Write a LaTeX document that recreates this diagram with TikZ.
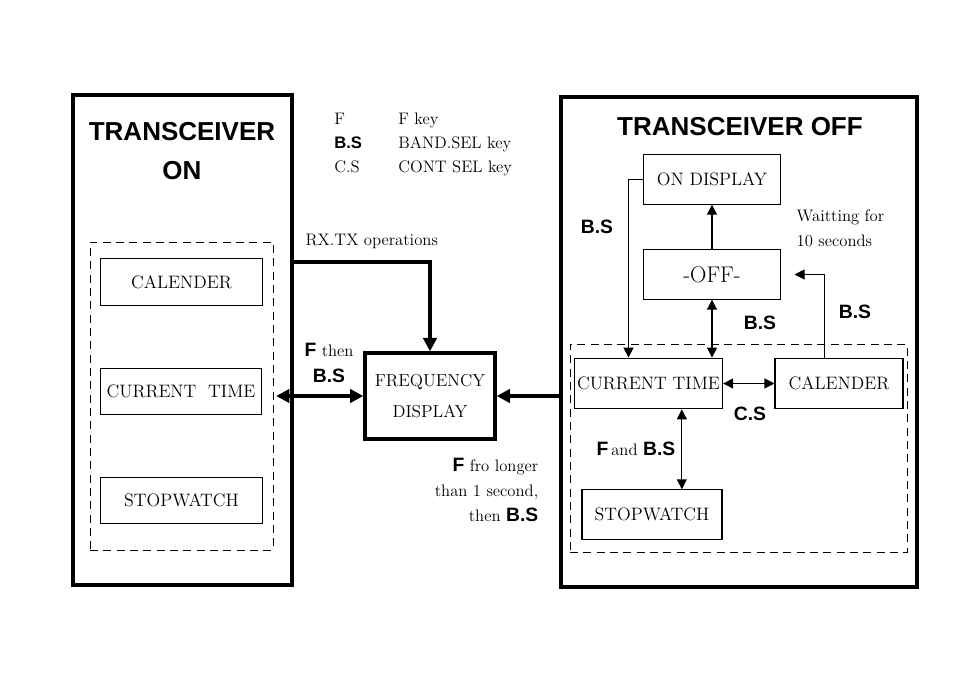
\documentclass[tikz,border=0pt]{standalone}
\usepackage{fontspec}
\setsansfont{Liberation Sans}
\usetikzlibrary{arrows.meta,positioning,calc,fit}
\newcommand{\KeyLbl}[1]{{\sffamily\bfseries\fontsize{14.5}{16}\selectfont #1}}
\newcommand{\SmallTxt}{\fontsize{12.5}{19}\selectfont}

\begin{document}
\begin{tikzpicture}[x=0.75pt,y=-0.75pt,
  frame/.style={draw,line width=3pt,inner sep=0pt},
  group/.style={draw,dash pattern=on 6pt off 4pt,line width=0.7pt,inner sep=0pt},
  box/.style={draw,line width=0.8pt,inner xsep=2pt,font=\fontsize{13.5}{16}\selectfont,minimum height=35pt},
  thickarr/.style={-{Triangle[length=10pt,width=10pt]},line width=3pt},
  thickboth/.style={{Triangle[length=10pt,width=10pt]}-{Triangle[length=10pt,width=10pt]},line width=3pt},
  arr/.style={-{Triangle[length=7.5pt,width=7.5pt]},line width=0.8pt},
  both/.style={{Triangle[length=7.5pt,width=7.5pt]}-{Triangle[length=7.5pt,width=7.5pt]},line width=0.8pt},
  note/.style={font=\SmallTxt,align=center},
  title/.style={font=\sffamily\bfseries\fontsize{19.5}{29}\selectfont,align=center},
]
\useasboundingbox (0,0) rectangle (954,673);

% transceiver on
\node[frame,fit={(73,95) (292,585)}] (onbox) {};
\node[title] (ontitle) at (182,151) {TRANSCEIVER\\ON};
\node[group,fit={(90,242) (273,550)}] (onset) {};
\node[box,minimum width=121pt] (calL) at (181.5,282) {CALENDER};
\node[box,minimum width=121pt] (curL) at (181,391.5) {CURRENT\ \ TIME};
\node[box,minimum width=121pt] (stopL) at (181.5,500.5) {STOPWATCH};

% legend
\foreach \k/\m [count=\i] in {F/F key,{\sffamily\bfseries B.S}/BAND.SEL key,C.S/CONT SEL key}{
  \node[font=\SmallTxt,anchor=base west,inner sep=0pt] (key\i) at (334,101+24*\i) {\k};
  \node[font=\SmallTxt,anchor=base west,inner sep=0pt] (keytxt\i) at (398,101+24*\i) {\m};
}

% frequency display
\node[draw,line width=3pt,minimum width=97pt,minimum height=64pt,align=center,
  font=\fontsize{13}{23}\selectfont] (freq) at (430,396) {FREQUENCY\\DISPLAY};
\node[font=\SmallTxt,anchor=west] (rxtx) at (301,241) {RX.TX operations};
\coordinate (rx) at (292,262);
\draw[thickarr] (onbox.east |- rx) -| (freq.north);
\draw[thickboth,shorten <=2pt] (onset.east |- freq.west) -- (freq.west);
\node[note] (fthen) at (329,363) {\KeyLbl{F} then\\\KeyLbl{B.S}};
\node[note,align=right,anchor=east,font=\fontsize{12.5}{19}\selectfont] (flong) at (543,490)
  {\KeyLbl{F} fro longer\\than 1 second,\\then \KeyLbl{B.S}};

% transceiver off
\node[frame,fit={(561,97) (917,587)}] (offbox) {};
\draw[thickarr] (offbox.west |- freq.east) -- (freq.east);
\node[title] (offtitle) at (740,127) {TRANSCEIVER OFF};
\node[box,minimum width=103pt,minimum height=37pt] (ondisp) at (712,179.5) {ON DISPLAY};
\node[box,minimum width=103pt,minimum height=37pt,font=\fontsize{17}{18}\selectfont] (off) at (712,274.5) {-OFF-};
\node[group,fit={(570,344) (907,552)}] (offset) {};
\node[box,minimum width=110pt,minimum height=38pt] (curR) at (648.5,383.5) {CURRENT TIME};
\node[box,minimum width=96pt,minimum height=38pt] (calR) at (839,383.5) {CALENDER};
\node[box,minimum width=105pt,minimum height=37pt] (stopR) at (652,514.5) {STOPWATCH};

\draw[arr] (off.north) -- (off.north |- ondisp.south);
\node[note,align=left,anchor=west] (wait) at (792,228) {Waitting for\\10 seconds};
\draw[both] (curR.north -| off.south) -- (off.south);
\node (bsoff) at (760,323) {\KeyLbl{B.S}};
\draw[arr] (ondisp.west) -| ([xshift=-15pt]curR.north);
\node (bson) at (597,227) {\KeyLbl{B.S}};
\draw[arr,shorten >=10pt] ([xshift=-11pt]calR.north) |- (off.east);
\node (bscal) at (855,312) {\KeyLbl{B.S}};
\draw[both] (curR) -- (calR);
\node (cs) at (750,414) {\KeyLbl{C.S}};
\draw[both] ([xshift=25pt]curR.south) -- ([xshift=25pt]curR.south |- stopR.north);
\node[font=\SmallTxt] (fbs) at (636,449) {\KeyLbl{F}\,and \KeyLbl{B.S}};
\end{tikzpicture}
\end{document}
